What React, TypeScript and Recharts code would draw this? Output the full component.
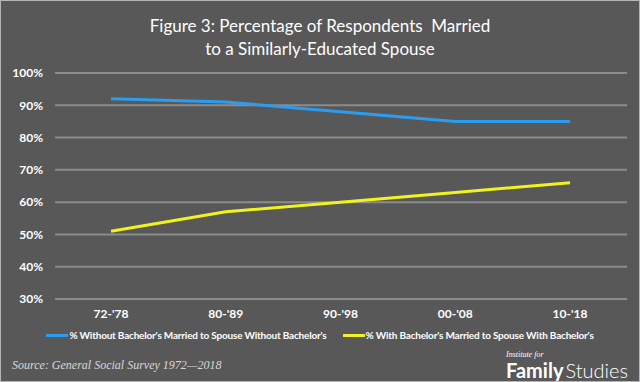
import { CartesianGrid, Line, LineChart, XAxis, YAxis } from "recharts";

const periods = ["72-'78", "80-'89", "90-'98", "00-'08", "10-'18"];
const withoutBachelors = [0.92, 0.91, 0.88, 0.85, 0.85];
const withBachelors = [0.51, 0.57, 0.6, 0.63, 0.66];
const yTicks = [0.3, 0.4, 0.5, 0.6, 0.7, 0.8, 0.9, 1.0];

const seriesNames = {
  without: "% Without Bachelor's Married to Spouse Without Bachelor's",
  with: "% With Bachelor's Married to Spouse With Bachelor's",
};

const data = periods.map((p, i) => ({
  period: p,
  without: withoutBachelors[i],
  with: withBachelors[i],
}));

const BLUE = "#2a9df0";
const YELLOW = "#f2f21c";
const font = "Lato, 'Open Sans', sans-serif";

export default function App() {
  return (
    <div
      style={{
        position: "absolute",
        left: 0,
        top: 0,
        width: 638,
        height: 380,
        background: "#585858",
        border: "1px solid #b5b5b5",
        overflow: "hidden",
        fontFamily: font,
      }}
    >
      <div
        style={{
          position: "absolute",
          top: 13,
          left: 0,
          width: 638,
          textAlign: "center",
          color: "#ffffff",
          fontSize: 17,
          lineHeight: "23px",
        }}
      >
        Figure 3: Percentage of Respondents&nbsp; Married
        <br />
        to a Similarly-Educated Spouse
      </div>

      <LineChart
        width={638}
        height={380}
        data={data}
        margin={{ top: 72, right: 12, bottom: 52, left: 0 }}
      >
        <CartesianGrid vertical={false} stroke="#8c8c8c" strokeWidth={2} />
        <XAxis
          dataKey="period"
          axisLine={false}
          tickLine={false}
          padding={{ left: 56, right: 57 }}
          tick={{ fill: "#ffffff", fontSize: 12, fontWeight: 700, fontFamily: font }}
          dy={2}
        />
        <YAxis
          width={54}
          domain={[0.3, 1]}
          ticks={yTicks}
          axisLine={false}
          tickLine={false}
          tickFormatter={(v: number) => `${Math.round(v * 100)}%`}
          tick={{ fill: "#ffffff", fontSize: 12, fontWeight: 700, fontFamily: font }}
          dx={-4}
        />
        <Line
          dataKey="without"
          name={seriesNames.without}
          stroke={BLUE}
          strokeWidth={3}
          dot={false}
          isAnimationActive={false}
        />
        <Line
          dataKey="with"
          name={seriesNames.with}
          stroke={YELLOW}
          strokeWidth={3}
          dot={false}
          isAnimationActive={false}
        />
      </LineChart>

      <div
        style={{
          position: "absolute",
          top: 328,
          left: 0,
          width: 638,
          display: "flex",
          justifyContent: "center",
          gap: 16,
          color: "#ffffff",
          fontSize: 10,
          fontWeight: 700,
          letterSpacing: -0.2,
        }}
      >
        {[
          { name: seriesNames.without, color: BLUE },
          { name: seriesNames.with, color: YELLOW },
        ].map((s) => (
          <div key={s.name} style={{ display: "flex", alignItems: "center" }}>
            <span
              style={{
                display: "inline-block",
                width: 22,
                height: 3,
                background: s.color,
                marginRight: 1,
              }}
            />
            {s.name}
          </div>
        ))}
      </div>

      <div
        style={{
          position: "absolute",
          top: 357,
          left: 11,
          color: "#d8d8d8",
          fontFamily: "'Liberation Serif', serif",
          fontStyle: "italic",
          fontSize: 12,
        }}
      >
        Source: General Social Survey 1972—2018
      </div>

      <div style={{ position: "absolute", top: 350, left: 505, color: "#ffffff" }}>
        <div
          style={{
            fontFamily: "'Liberation Serif', serif",
            fontStyle: "italic",
            fontSize: 8,
            lineHeight: "8px",
          }}
        >
          Institute for
        </div>
        <div style={{ fontSize: 20, lineHeight: "22px", whiteSpace: "nowrap" }}>
          <span style={{ fontWeight: 700 }}>Family</span>
          <span style={{ fontWeight: 300, marginLeft: 2 }}>Studies</span>
        </div>
      </div>
    </div>
  );
}
